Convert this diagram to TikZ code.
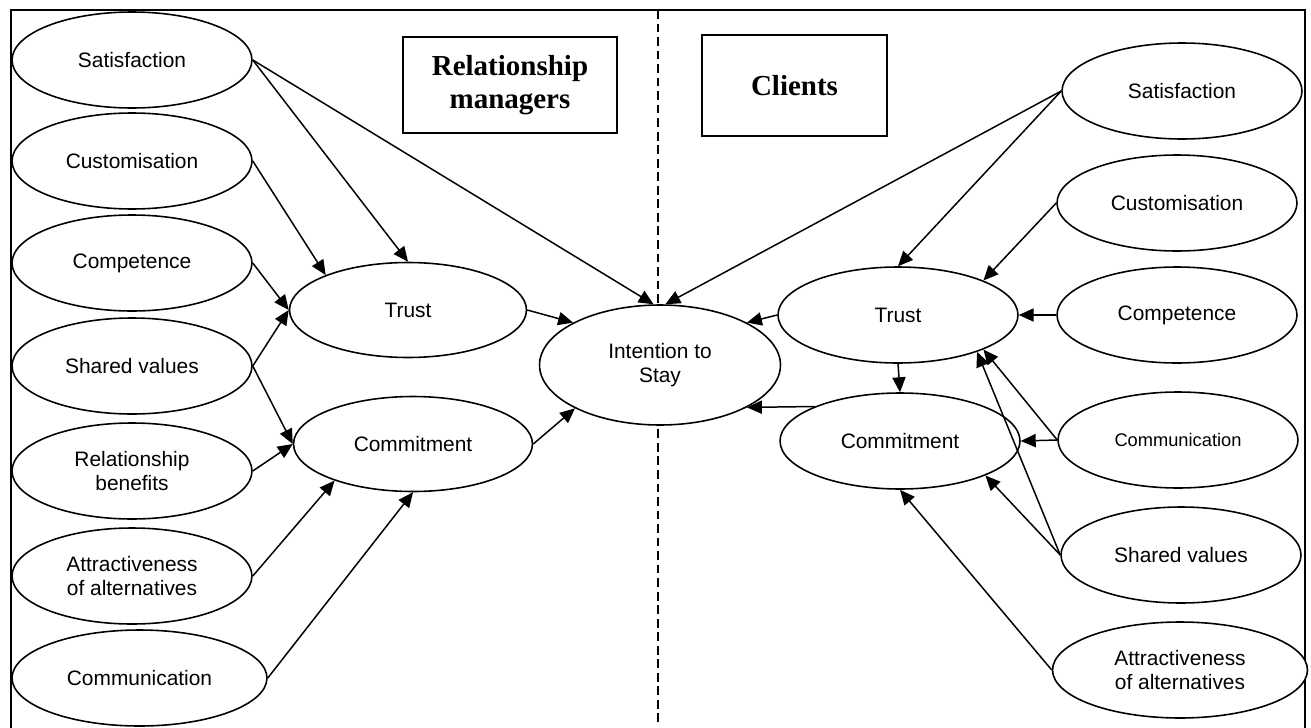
\documentclass[tikz,border=0pt]{standalone}
\usepackage{fontspec}
\setmainfont{Liberation Sans}
\newfontfamily\titlefont{Liberation Serif}
\usetikzlibrary{arrows.meta,shapes.geometric}

\tikzset{
  var/.style={shape=ellipse,draw=black,fill=white,line width=0.9pt,minimum width=4.8cm,minimum height=1.92cm,
    inner sep=0pt,align=center,font=\fontsize{11.9}{13.6}\selectfont},
  wide/.style={var,minimum width=5.1cm},
  titlebox/.style={shape=rectangle,draw=black,line width=0.9pt,inner sep=0pt,align=center,
    font=\titlefont\bfseries\fontsize{16.5}{19}\selectfont},
  arr/.style={-{Triangle[length=8.5pt,width=7.5pt]},line width=0.85pt},
}

\begin{document}
\begin{tikzpicture}[x=0.02cm,y=-0.02cm]
    \useasboundingbox (0,0) rectangle (1311,727);

    % frame and divider
    \draw[line width=1pt] (11,740) -- (11,10) -- (1305,10) -- (1305,740);
    \draw[line width=0.9pt,dash pattern=on 5pt off 2.7pt] (658,10) -- (658,727);

    \node[titlebox,minimum width=4.28cm,minimum height=1.92cm] (managers) at (510,85) {Relationship\\managers};
    \node[titlebox,minimum width=3.7cm,minimum height=2.02cm] (clients) at (794.5,85.5) {Clients};

    % relationship managers
    \node[var] (lsat) at (132,60) {Satisfaction};
    \node[var] (lcust) at (132,161) {Customisation};
    \node[var] (lcomp) at (132,263) {Competence};
    \node[var] (lshared) at (132,366) {Shared values};
    \node[var] (lbenef) at (132,471) {Relationship\\benefits};
    \node[var] (lattr) at (132,576) {Attractiveness\\of alternatives};
    \node[wide] (lcomm) at (139.5,678) {Communication};
    \node[var,minimum width=4.74cm,minimum height=1.9cm] (ltrust) at (408,310) {Trust};
    \node[var,minimum width=4.78cm,minimum height=1.9cm] (lcommit) at (413,444) {Commitment};

    \node[var,minimum width=4.82cm,minimum height=2.4cm] (stay) at (660,365) {Intention to\\Stay};

    % clients
    \node[var] (rtrust) at (898,315) {Trust};
    \node[var] (rcommit) at (900,441) {Commitment};
    \node[var] (rsat) at (1182,91) {Satisfaction};
    \node[var] (rcust) at (1177,203) {Customisation};
    \node[var] (rcomp) at (1177,315) {Competence};
    \node[var,font=\fontsize{10.4}{12}\selectfont] (rcomm) at (1178,440) {Communication};
    \node[var] (rshared) at (1181,555) {Shared values};
    \node[wide] (rattr) at (1180,670) {Attractiveness\\of alternatives};

    \path (lsat.east) edge[arr] (ltrust.north);
    \path (lsat.east) edge[arr] (stay.96);
    \path (lcust.east) edge[arr] (ltrust.157);
    \path (lcomp.east) edge[arr] (ltrust.west);
    \path (lshared.east) edge[arr] (ltrust.west);
    \path (lshared.east) edge[arr] (lcommit.west);
    \path (lbenef.east) edge[arr] (lcommit.west);
    \path (lattr.east) edge[arr] (lcommit.205);
    \path (lcomm.east) edge[arr] (lcommit.south);
    \path (ltrust.east) edge[arr] (stay.154);
    \path (lcommit.east) edge[arr] (stay.207);

    \path (rsat.west) edge[arr] (stay.85);
    \path (rsat.west) edge[arr] (rtrust.north);
    \path (rcust.west) edge[arr] (rtrust.22);
    \path (rcomp.west) edge[arr] (rtrust.east);
    \path (rtrust.west) edge[arr] (stay.26);
    \path (rtrust.south) edge[arr] (rcommit.north);
    \path (rcommit.158) edge[arr] (stay.334);
    \path (rcomm.west) edge[arr] (rcommit.east);
    \path (rcomm.west) edge[arr] (rtrust.338);
    \path (rshared.west) edge[arr] (rcommit.338);
    \path (rshared.west) edge[arr] (rtrust.335);
    \path (rattr.west) edge[arr] (rcommit.south);
\end{tikzpicture}
\end{document}
